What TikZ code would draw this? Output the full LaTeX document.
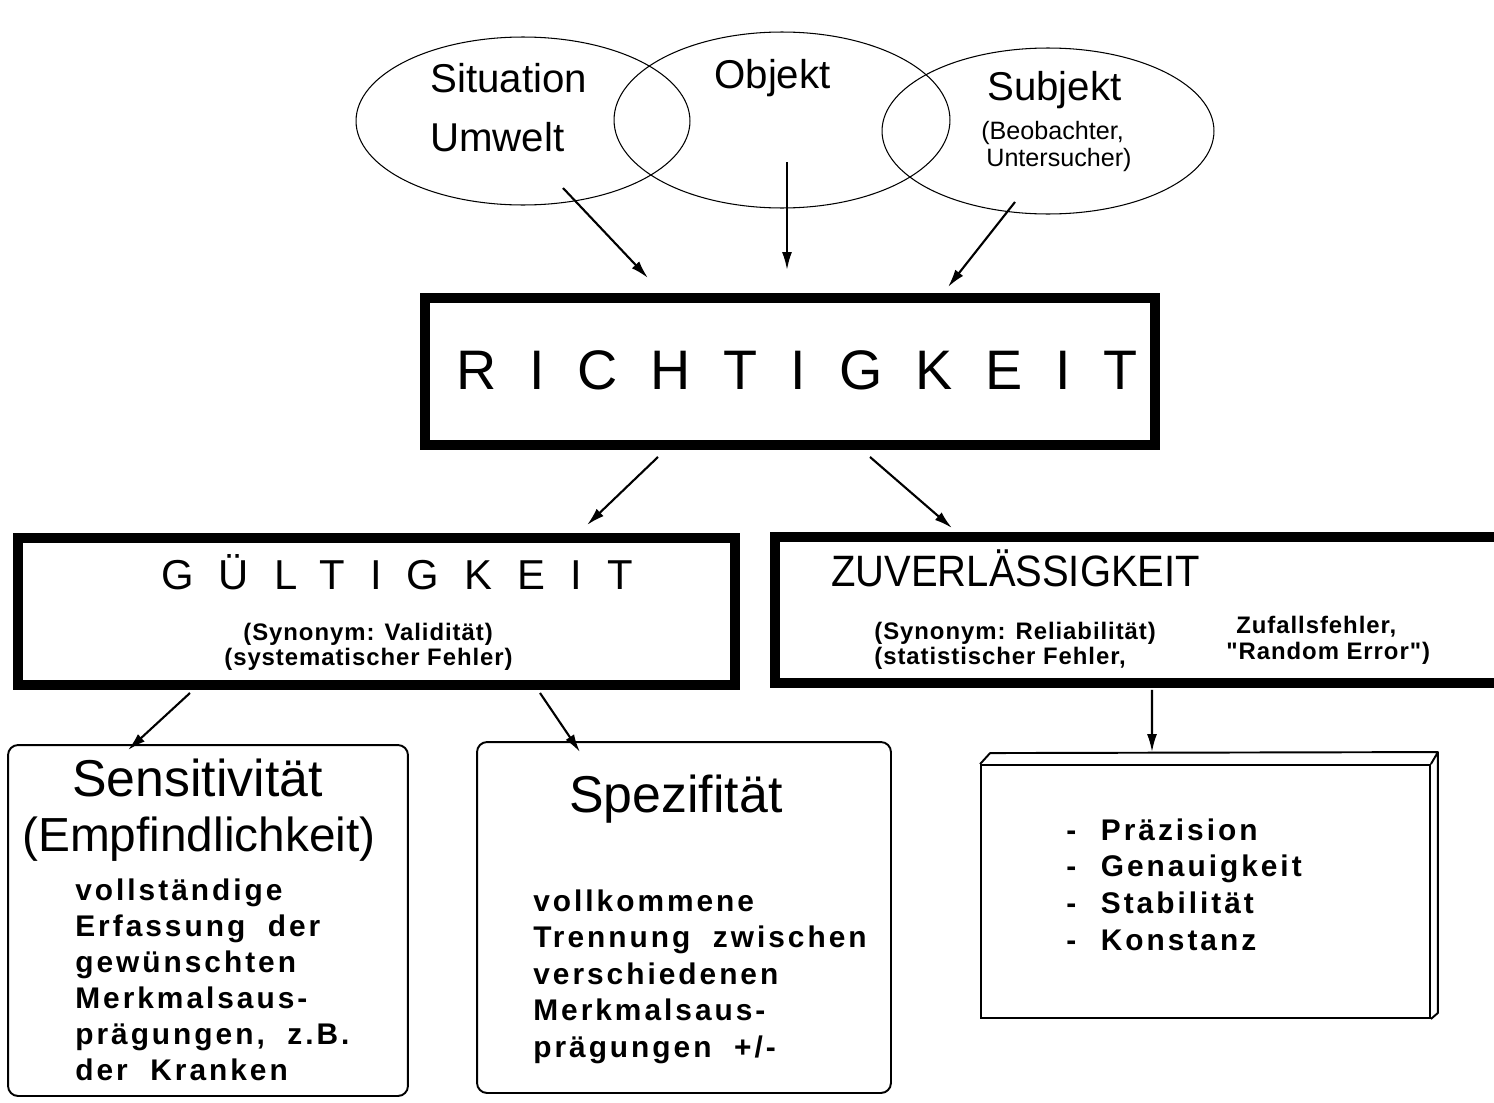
\documentclass[tikz,border=0pt]{standalone}
\usepackage{fontspec}
\setmainfont{Liberation Sans}
\newfontfamily\spacedfont{Liberation Sans}[LetterSpace=59]
\newfontfamily\gapfont{Liberation Sans}[LetterSpace=60]
\newfontfamily\notefont{Liberation Sans}[LetterSpace=4]
\newfontfamily\listfont{Liberation Sans}[LetterSpace=10,WordSpace=2]
\usetikzlibrary{shapes.geometric,arrows.meta,calc}

\begin{document}
\begin{tikzpicture}[x=0.02cm,y=-0.02cm,
    bubble/.style={draw, ellipse, inner sep=0pt, line width=0.6pt},
    thickbox/.style={draw, line width=0.2cm, minimum height=2.94cm},
    card/.style={draw, line width=1.1pt, rounded corners=0.2cm},
    lbl/.style={inner sep=0pt, anchor=base west},
    body/.style={inner sep=0pt, anchor=north west, align=left},
    arr/.style={-{Latex[length=0.36cm,width=0.2cm]}, line width=1.2pt}]
    \path[use as bounding box, fill=white] (0,0) rectangle (1494,1102);
    % the three overlapping ellipses
    \node[bubble, minimum width=6.68cm, minimum height=3.36cm] (sit) at (523,121) {};
    \node[bubble, minimum width=6.72cm, minimum height=3.52cm] (obj) at (782,120) {};
    \node[bubble, minimum width=6.64cm, minimum height=3.32cm] (subj) at (1048,131) {};
    \node[lbl, font=\fontsize{22.9pt}{27pt}\selectfont] (situation) at (430,92) {Situation};
    \node[lbl, font=\fontsize{22.9pt}{27pt}\selectfont] (umwelt) at (430,151) {Umwelt};
    \node[lbl, font=\fontsize{22.9pt}{27pt}\selectfont] (objekt) at (714,88) {Objekt};
    \node[lbl, font=\fontsize{22.9pt}{27pt}\selectfont] (subjekt) at (987,100) {Subjekt};
    \node[lbl, font=\fontsize{14.3pt}{16pt}\selectfont] (beob) at (981,139) {(Beobachter,};
    \node[lbl, font=\fontsize{14.3pt}{16pt}\selectfont] (unters) at (986,166) {Untersucher)};
    % framed boxes
    \node[thickbox, minimum width=14.6cm] (richt) at (790,371.5) {};
    \node[lbl, font=\spacedfont\fontsize{31.7pt}{32pt}\selectfont] (richtxt) at (456,389) {RICHTIGKEIT};
    \node[thickbox, minimum width=14.34cm] (guelt) at (376.5,611.5) {};
    \node[lbl, font=\gapfont\fontsize{23.8pt}{24pt}\selectfont] (gueltxt) at (161,589) {GÜLTIGKEIT};
    \node[lbl, font=\notefont\bfseries\fontsize{13.6pt}{14pt}\selectfont] (valtxt) at (243,640) {(Synonym: Validität)};
    \node[lbl, font=\notefont\bfseries\fontsize{13.6pt}{14pt}\selectfont] (systxt) at (224,665) {(systematischer Fehler)};
    \node[thickbox, minimum width=14.7cm, minimum height=2.92cm] (zuv) at (1142.5,610) {};
    \node[lbl, xscale=0.91, font=\fontsize{25pt}{26pt}\selectfont] (zuvtxt) at (831,586) {ZUVERLÄSSIGKEIT};
    \node[lbl, font=\notefont\bfseries\fontsize{13.6pt}{14pt}\selectfont] (reltxt) at (874,639) {(Synonym: Reliabilität)};
    \node[lbl, font=\notefont\bfseries\fontsize{13.6pt}{14pt}\selectfont] (stattxt) at (874,664) {(statistischer Fehler,};
    \node[lbl, font=\notefont\bfseries\fontsize{13.6pt}{14pt}\selectfont] (zuftxt) at (1236,633) {Zufallsfehler,};
    \node[lbl, font=\notefont\bfseries\fontsize{13.6pt}{14pt}\selectfont] (randtxt) at (1226,659) {"Random Error")};
    % lower boxes
    \node[card, minimum width=8cm, minimum height=7.02cm] (sens) at (208,920.5) {};
    \node[lbl, font=\fontsize{29.5pt}{30pt}\selectfont] (senstxt) at (72,796) {Sensitivität};
    \node[lbl, font=\fontsize{27.2pt}{28pt}\selectfont] (empftxt) at (22,851) {(Empfindlichkeit)};
    \node[body, font=\listfont\bfseries\fontsize{17pt}{20.6pt}\selectfont] (sensbody) at (75,878)
        {vollständige\\Erfassung der\\gewünschten\\Merkmalsaus-\\prägungen, z.B.\\der Kranken};
    \node[card, minimum width=8.28cm, minimum height=7.02cm] (spez) at (684,917.5) {};
    \node[lbl, font=\fontsize{29.5pt}{30pt}\selectfont] (speztxt) at (569,812) {Spezifität};
    \node[body, font=\listfont\bfseries\fontsize{17pt}{20.8pt}\selectfont] (spezbody) at (533,889)
        {vollkommene\\Trennung zwischen\\verschiedenen\\Merkmalsaus-\\prägungen +/-};
    \node[draw, line width=1.1pt, minimum width=8.98cm, minimum height=5.06cm] (prec) at (1205.5,891.5) {};
    \draw[line width=1.1pt, line join=round] (prec.north west) -- ++(10,-11) -- ($(prec.north east)+(7,-12)$)
        -- ($(prec.south east)+(7,-6)$) -- (prec.south east) (prec.north east) -- ++(7,-12);
    \node[body, font=\listfont\bfseries\fontsize{17pt}{21pt}\selectfont] (preclist) at (1066,818)
        {-\hspace{14pt}Präzision\\-\hspace{14pt}Genauigkeit\\-\hspace{14pt}Stabilität\\-\hspace{14pt}Konstanz};
    % arrows
    \draw[arr] ($(sit.center)+(40,67)$) -- ($(richt.north)+(-142,-15)$);
    \draw[arr] ($(obj.center)+(5,42)$) -- ($(richt.north)+(-3,-23)$);
    \draw[arr] ($(subj.center)+(-33,71)$) -- ($(richt.north)+(158,-6)$);
    \draw[arr] ($(richt.south)+(-132,7)$) -- ($(guelt.north)+(210.5,-8)$);
    \draw[arr] ($(richt.south)+(80,7)$) -- ($(zuv.north)+(-190.5,-4)$);
    \draw[arr] ($(guelt.south)+(-186.5,3)$) -- ($(sens.north)+(-80,6)$);
    \draw[arr] ($(guelt.south)+(163.5,3)$) -- ($(spez.north)+(-104,11)$);
    \draw[arr] ($(zuv.south)+(9.5,2)$) -- ($(prec.north)+(-53.5,-12)$);
\end{tikzpicture}
\end{document}
